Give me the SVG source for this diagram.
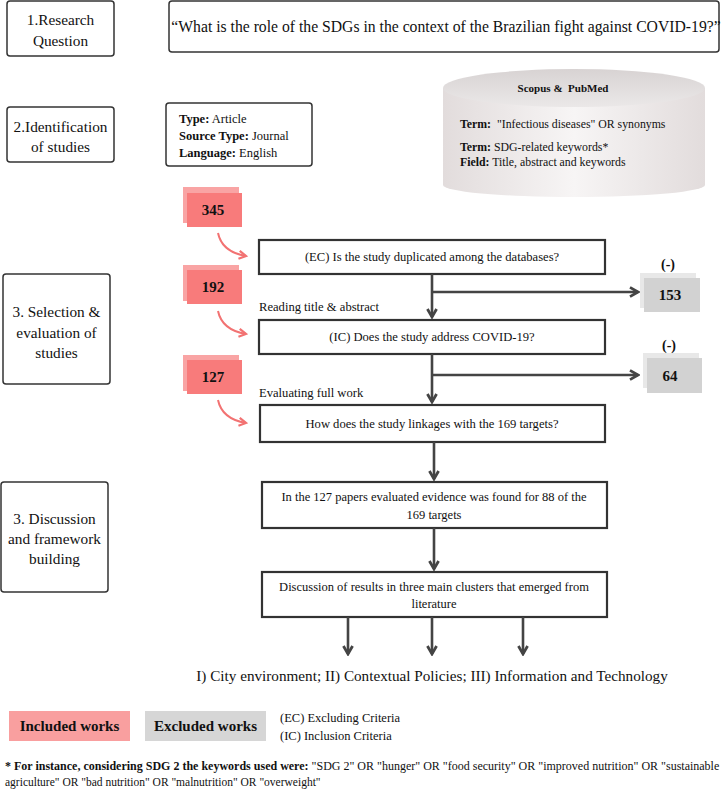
<svg xmlns="http://www.w3.org/2000/svg" width="721" height="790" viewBox="0 0 721 790" font-family="'Liberation Serif', serif">
<style>
text{font-family:"Liberation Serif","Tinos","DejaVu Serif",serif;fill:#111}
.lbl{fill:#fff;stroke:#333;stroke-width:1.5}
.box{fill:#fff;stroke:#333;stroke-width:2.2}
.conn{fill:none;stroke:#444;stroke-width:2.6}
.pk{fill:none;stroke:#f27272;stroke-width:2}
.c{text-anchor:middle}
.b{font-weight:bold}
.lt{font-size:15.3px}
.ft{font-size:12.6px}
</style>
<defs>
<marker id="ah" viewBox="0 0 10 10" refX="8" refY="5" markerWidth="4.4" markerHeight="4.4" orient="auto" markerUnits="strokeWidth">
<path d="M1,1 L8,5 L1,9" fill="none" stroke="#444" stroke-width="2.4"/>
</marker>
<marker id="ap" viewBox="0 0 10 10" refX="8" refY="5" markerWidth="5" markerHeight="5" orient="auto" markerUnits="strokeWidth">
<path d="M1,1 L8,5 L1,9" fill="none" stroke="#f27272" stroke-width="2.2"/>
</marker>
<linearGradient id="cyl" x1="0" y1="0" x2="1" y2="0">
<stop offset="0" stop-color="#e2dcdc"/>
<stop offset="0.5" stop-color="#f7f5f5"/>
<stop offset="1" stop-color="#e2dcdc"/>
</linearGradient>
<linearGradient id="cyltop" x1="0" y1="0" x2="0" y2="1">
<stop offset="0" stop-color="#d8d3d3"/>
<stop offset="1" stop-color="#ebe8e8"/>
</linearGradient>
</defs>

<g id="stage1">
<rect class="lbl" x="7" y="1" width="107" height="55" rx="3"/>
<text class="c lt" x="60.5" y="25">1.Research</text>
<text class="c lt" x="60.5" y="46">Question</text>
</g>
<g id="question">
<rect class="lbl" x="169" y="1" width="550" height="51" rx="3"/>
<text class="c" x="446" y="32" font-size="15.7">“What is the role of the SDGs in the context of the Brazilian fight against COVID-19?”</text>
</g>
<g id="stage2">
<rect class="lbl" x="7" y="107" width="107" height="55" rx="3"/>
<text class="c lt" x="60.5" y="132">2.Identification</text>
<text class="c lt" x="60.5" y="152">of studies</text>
</g>
<g id="filters">
<rect class="lbl" x="166" y="103" width="146" height="63" rx="3"/>
<text x="179" y="123" font-size="12.5"><tspan class="b">Type:</tspan> Article</text>
<text x="179" y="140" font-size="12.5"><tspan class="b">Source Type:</tspan> Journal</text>
<text x="179" y="157" font-size="12.5"><tspan class="b">Language:</tspan> English</text>
</g>
<g id="databases">
<path d="M443,88 L443,185 A131,12 0 0 0 705,185 L705,88 Z" fill="url(#cyl)"/>
<ellipse cx="574" cy="88" rx="131" ry="19" fill="url(#cyltop)"/>
<text class="c b" x="563" y="92" font-size="11" xml:space="preserve">Scopus &amp;  PubMed</text>
<text x="460" y="128" font-size="11.8" xml:space="preserve"><tspan class="b">Term:</tspan>  "Infectious diseases" OR synonyms</text>
<text x="460" y="151" font-size="11.8"><tspan class="b">Term:</tspan> SDG-related keywords*</text>
<text x="460" y="166" font-size="11.8"><tspan class="b">Field:</tspan> Title, abstract and keywords</text>
</g>
<g id="stage3">
<rect class="lbl" x="3" y="274" width="107" height="110" rx="3"/>
<text class="c lt" x="56.5" y="317">3. Selection &amp;</text>
<text class="c lt" x="56.5" y="338">evaluation of</text>
<text class="c lt" x="56.5" y="358">studies</text>
</g>
<g id="n345">
<rect x="183" y="187" width="56" height="36" fill="#f9a4a4"/>
<rect x="187" y="193" width="55" height="34" fill="#f87b7b"/>
<text class="c b" x="213" y="215" font-size="15">345</text>
</g>
<g id="n192">
<rect x="183" y="265" width="56" height="36" fill="#f9a4a4"/>
<rect x="187" y="270" width="55" height="34" fill="#f87b7b"/>
<text class="c b" x="213" y="292" font-size="15">192</text>
</g>
<g id="n127">
<rect x="183" y="355" width="56" height="36" fill="#f9a4a4"/>
<rect x="187" y="360" width="55" height="34" fill="#f87b7b"/>
<text class="c b" x="213" y="382" font-size="15">127</text>
</g>
<g id="ec">
<rect class="box" x="259" y="240" width="346" height="34"/>
<text class="c ft" x="432" y="261">(EC) Is the study duplicated among the databases?</text>
</g>
<g id="n153">
<rect x="640" y="273" width="56" height="35" fill="#e8e8e8"/>
<rect x="644" y="278" width="56" height="34" fill="#d2d2d2"/>
<text class="c b" x="668" y="269" font-size="14">(-)</text>
<text class="c b" x="670" y="300" font-size="15">153</text>
</g>
<g id="ic">
<text class="ft" x="259" y="311">Reading title &amp; abstract</text>
<rect class="box" x="259" y="320" width="346" height="34"/>
<text class="c ft" x="432" y="341">(IC) Does the study address COVID-19?</text>
</g>
<g id="n64">
<rect x="643" y="353" width="56" height="35" fill="#e8e8e8"/>
<rect x="647" y="358" width="55" height="35" fill="#d2d2d2"/>
<text class="c b" x="669" y="350" font-size="14">(-)</text>
<text class="c b" x="670" y="381" font-size="15">64</text>
</g>
<g id="link">
<text class="ft" x="259" y="397">Evaluating full work</text>
<rect class="box" x="260" y="405" width="345" height="37"/>
<text class="c ft" x="432" y="428">How does the study linkages with the 169 targets?</text>
</g>
<g id="stage4">
<rect class="lbl" x="1" y="482" width="107" height="110" rx="3"/>
<text class="c lt" x="54.5" y="524">3. Discussion</text>
<text class="c lt" x="54.5" y="544">and framework</text>
<text class="c lt" x="54.5" y="564">building</text>
</g>
<g id="evidence">
<rect class="box" x="262" y="482" width="345" height="46"/>
<text class="c" x="434" y="501" font-size="12.5">In the 127 papers evaluated evidence was found for 88 of the</text>
<text class="c" x="434" y="519" font-size="12.5">169 targets</text>
</g>
<g id="clusters">
<rect class="box" x="262" y="572" width="345" height="45"/>
<text class="c" x="434" y="591" font-size="12.5">Discussion of results in three main clusters that emerged from</text>
<text class="c" x="434" y="608" font-size="12.5">literature</text>
</g>
<g id="result">
<text class="c" x="432" y="681" font-size="15.2">I) City environment; II) Contextual Policies; III) Information and Technology</text>
</g>
<g id="connectors">
<path class="conn" d="M432,274 V317" marker-end="url(#ah)"/>
<path class="conn" d="M432,292 H638" marker-end="url(#ah)"/>
<path class="conn" d="M432,354 V402" marker-end="url(#ah)"/>
<path class="conn" d="M432,375 H638" marker-end="url(#ah)"/>
<path class="conn" d="M434,442 V479" marker-end="url(#ah)"/>
<path class="conn" d="M434,528 V569" marker-end="url(#ah)"/>
<path class="conn" d="M348,617 V654" marker-end="url(#ah)"/>
<path class="conn" d="M432,617 V654" marker-end="url(#ah)"/>
<path class="conn" d="M523,617 V654" marker-end="url(#ah)"/>
<path class="pk" d="M218,233 Q222,252 246,256" marker-end="url(#ap)"/>
<path class="pk" d="M218,311 Q222,330 246,334" marker-end="url(#ap)"/>
<path class="pk" d="M218,400 Q222,419 246,423" marker-end="url(#ap)"/>
</g>
<g id="legend">
<rect x="9" y="711" width="121" height="30" fill="#f99f9f"/>
<text class="c b" x="69.5" y="731" font-size="15">Included works</text>
<rect x="145" y="711" width="121" height="30" fill="#d6d6d6"/>
<text class="c b" x="205.5" y="731" font-size="15">Excluded works</text>
<text x="280" y="722" font-size="12.5">(EC) Excluding Criteria</text>
<text x="280" y="740" font-size="12.5">(IC) Inclusion Criteria</text>
</g>
<g id="footnote">
<text x="5" y="770" font-size="12"><tspan class="b">* For instance, considering SDG 2 the keywords used were:</tspan> "SDG 2" OR "hunger" OR "food security" OR "improved nutrition" OR "sustainable</text>
<text x="5" y="786" font-size="11.5">agriculture" OR "bad nutrition" OR "malnutrition" OR "overweight"</text>
</g>
</svg>
